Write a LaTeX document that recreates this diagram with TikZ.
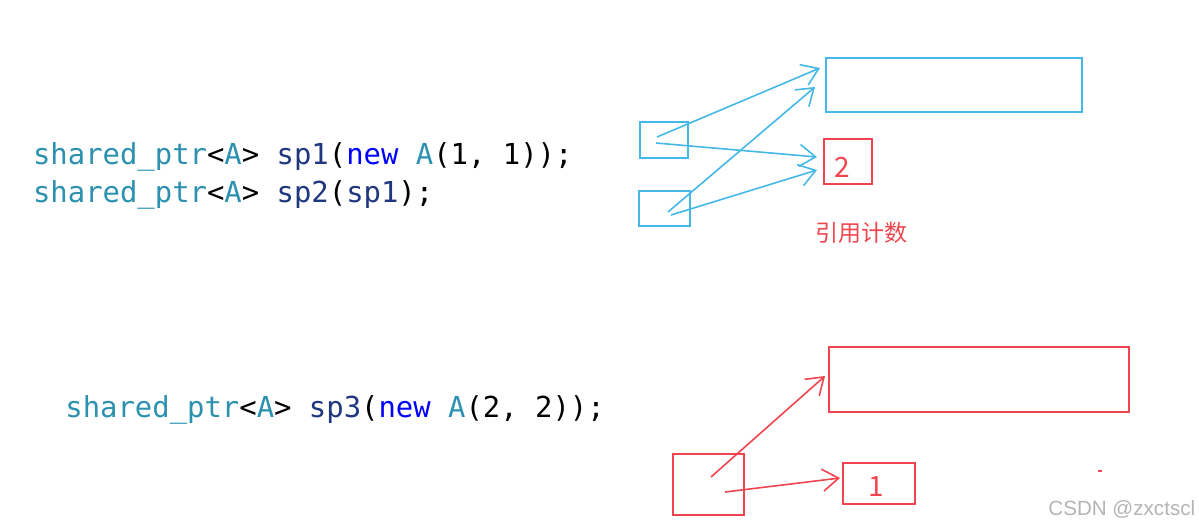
\documentclass[tikz,border=0pt]{standalone}
\usepackage{fontspec}
\usepackage{xcolor}
\usetikzlibrary{arrows.meta}
\newfontfamily\codefont{DejaVu Sans Mono}
\newfontfamily\cjk{Noto Sans CJK SC}
\newfontfamily\wmfont{Liberation Sans}
\definecolor{ctype}{HTML}{2B91AF}
\definecolor{cvar}{HTML}{1F377F}
\definecolor{ckey}{HTML}{0000FF}
\definecolor{lblue}{HTML}{45B8E8}
\definecolor{lred}{HTML}{F0454E}
\definecolor{wmgray}{HTML}{B4B4B4}
\tikzset{
  codeline/.style={anchor=base west, inner sep=0pt, text=black, font=\codefont\fontsize{14.45pt}{16pt}\selectfont},
  bluebox/.style={draw, color=lblue, line width=0.8pt, anchor=north west, inner sep=0pt},
  redbox/.style={draw, color=lred, line width=0.8pt, anchor=north west, inner sep=0pt},
  bluearrow/.style={color=lblue, line width=0.8pt, -{Straight Barb[length=8pt,width=11pt]}},
  redarrow/.style={color=lred, line width=0.8pt, -{Straight Barb[length=8pt,width=11pt]}},
  numtext/.style={text=lred, font=\cjk\fontsize{14pt}{16pt}\selectfont, inner sep=0pt},
}
\begin{document}
\begin{tikzpicture}[x=0.5pt,y=-0.5pt]
\useasboundingbox (0,0) rectangle (1199,525);
% code
\node[codeline] (c1) at (32.7,164) {{\color{ctype}shared\_ptr}<{\color{ctype}A}> {\color{cvar}sp1}({\color{ckey}new} {\color{ctype}A}(1, 1));};
\node[codeline] (c2) at (32.7,202) {{\color{ctype}shared\_ptr}<{\color{ctype}A}> {\color{cvar}sp2}({\color{cvar}sp1});};
\node[codeline] (c3) at (65,417) {{\color{ctype}shared\_ptr}<{\color{ctype}A}> {\color{cvar}sp3}({\color{ckey}new} {\color{ctype}A}(2, 2));};
% top group
\node[bluebox, minimum width=128pt, minimum height=27pt] (obj1) at (825,57) {};
\node[bluebox, minimum width=24pt, minimum height=18pt] (sp1) at (639,121) {};
\node[bluebox, minimum width=25.5pt, minimum height=17.5pt] (sp2) at (638,190) {};
\node[redbox, minimum width=24pt, minimum height=22.5pt] (cnt1) at (823,138) {};
\node[numtext] (n2) at (842,167) {2};
\node[text=lred, font=\cjk\fontsize{11.5pt}{13pt}\selectfont, inner sep=0pt] (lbl) at (861.5,233) {引用计数};
\coordinate (s1a) at (657,137);
\coordinate (s1b) at (656,143);
\coordinate (s2a) at (668,212);
\coordinate (s2b) at (671,215);
\coordinate (e1) at (820,68);
\coordinate (e2) at (817,157);
\coordinate (e3) at (815,87);
\coordinate (e4) at (817,170);
\draw[bluearrow] (s1a) -- (e1);
\draw[bluearrow] (s1b) -- (e2);
\draw[bluearrow] (s2a) -- (e3);
\draw[bluearrow] (s2b) -- (e4);
% bottom group
\node[redbox, minimum width=150pt, minimum height=32.5pt] (obj2) at (828,346) {};
\node[redbox, minimum width=35.5pt, minimum height=30.5pt] (sp3) at (672,453) {};
\node[redbox, minimum width=36pt, minimum height=20.5pt] (cnt2) at (842,462) {};
\node[numtext] (n1) at (876,487) {1};
\coordinate (s3a) at (711,477);
\coordinate (s3b) at (725,492);
\coordinate (e5) at (825,376);
\coordinate (e6) at (840,478);
\draw[redarrow] (s3a) -- (e5);
\draw[redarrow] (s3b) -- (e6);
\coordinate (dotA) at (1098,471);
\coordinate (dotB) at (1102,471);
\draw[color=lred, line width=0.8pt] (dotA) -- (dotB);
% watermark
\node[anchor=base west, inner sep=0pt, text=wmgray, font=\wmfont\fontsize{10.3pt}{12pt}\selectfont] (wm) at (1048,515) {CSDN @zxctscl};
\end{tikzpicture}
\end{document}
